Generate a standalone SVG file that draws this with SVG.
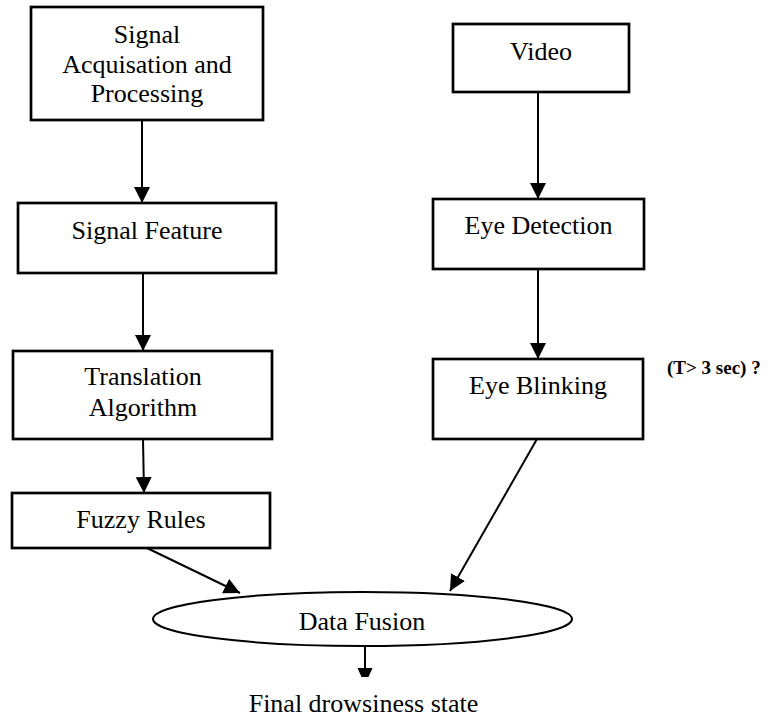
<svg xmlns="http://www.w3.org/2000/svg" width="769" height="719" viewBox="0 0 769 719">
<defs>
<style>
.box{fill:#fff;stroke:#000;stroke-width:2.7}
.t{font-family:"Liberation Serif","Times New Roman",serif;font-size:26px;fill:#000;text-anchor:middle}
.lbl{font-family:"Liberation Serif","Times New Roman",serif;font-size:19px;font-weight:bold;fill:#000}
.c{stroke:#000;stroke-width:2;fill:none}
</style>
<marker id="ah" markerUnits="userSpaceOnUse" markerWidth="17" markerHeight="17" refX="16" refY="8" orient="auto">
<path d="M0,0 L16,8 L0,16 z" fill="#000"/>
</marker>
<marker id="ahs" markerUnits="userSpaceOnUse" markerWidth="10" markerHeight="16" refX="9" refY="7.5" orient="auto">
<path d="M0,0 L9,4 L9,11 L0,15 z" fill="#000"/>
</marker>
</defs>
<rect width="769" height="719" fill="#fff"/>
<g id="connectors">
<line class="c" x1="142" y1="120" x2="142" y2="203" marker-end="url(#ah)"/>
<line class="c" x1="143" y1="273" x2="143" y2="351" marker-end="url(#ah)"/>
<line class="c" x1="143" y1="439" x2="144" y2="493" marker-end="url(#ah)"/>
<line class="c" x1="538" y1="92" x2="538" y2="199" marker-end="url(#ah)"/>
<line class="c" x1="538" y1="269" x2="538" y2="359" marker-end="url(#ah)"/>
<line class="c" x1="147" y1="548" x2="240" y2="593" marker-end="url(#ah)"/>
<line class="c" x1="537" y1="439" x2="450" y2="591" marker-end="url(#ah)"/>
<line class="c" x1="365" y1="646" x2="365" y2="677" marker-end="url(#ahs)"/>
</g>
<g id="node-signal-acq">
<rect class="box" x="31" y="7" width="232" height="113"/>
<text class="t" x="147" y="43">Signal</text>
<text class="t" x="147" y="73">Acquisation and</text>
<text class="t" x="147" y="102">Processing</text>
</g>
<g id="node-signal-feature">
<rect class="box" x="18" y="203" width="258" height="70"/>
<text class="t" x="147" y="239">Signal Feature</text>
</g>
<g id="node-translation">
<rect class="box" x="13" y="351" width="259" height="88"/>
<text class="t" x="143" y="385">Translation</text>
<text class="t" x="143" y="416">Algorithm</text>
</g>
<g id="node-fuzzy">
<rect class="box" x="12" y="493" width="258" height="55"/>
<text class="t" x="141" y="528">Fuzzy Rules</text>
</g>
<g id="node-video">
<rect class="box" x="453" y="24" width="176" height="68"/>
<text class="t" x="541" y="60">Video</text>
</g>
<g id="node-eye-detection">
<rect class="box" x="433" y="199" width="211" height="70"/>
<text class="t" x="538.5" y="234">Eye Detection</text>
</g>
<g id="node-eye-blinking">
<rect class="box" x="433" y="359" width="210" height="80"/>
<text class="t" x="538" y="394">Eye Blinking</text>
</g>
<g id="label-threshold">
<text class="lbl" x="667" y="374">(T&gt; 3 sec) ?</text>
</g>
<g id="node-data-fusion">
<ellipse cx="362.5" cy="619" rx="209.5" ry="27" fill="#fff" stroke="#000" stroke-width="2"/>
<text class="t" x="362" y="630">Data Fusion</text>
</g>
<g id="label-final">
<text class="t" x="363.5" y="712">Final drowsiness state</text>
</g>
</svg>
